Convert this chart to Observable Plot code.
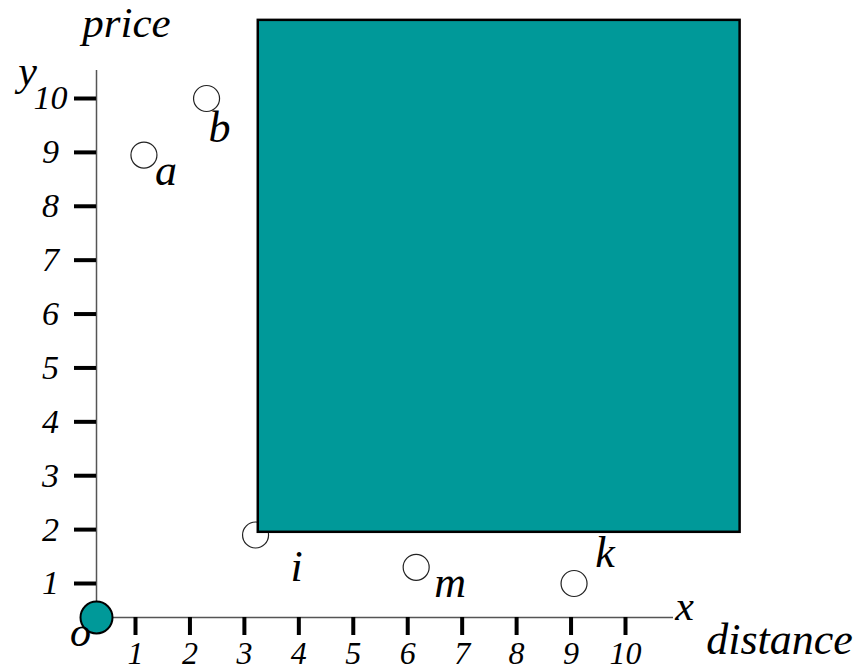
<!DOCTYPE html>
<html>
<head>
<meta charset="utf-8">
<script src="https://cdn.jsdelivr.net/npm/d3@7"></script>
<script src="https://cdn.jsdelivr.net/npm/@observablehq/plot@0.6"></script>
<style>
  html, body { margin: 0; padding: 0; background: #fff; }
</style>
</head>
<body>
<div id="chart"></div>
<script>
// Points in the distance / price plane
const names = ["a", "b", "i", "m", "k"];
const distance = [1.1, 2.25, 3.15, 6.1, 9.0];
const price = [8.95, 10, 1.9, 1.3, 1.0];

// Region dominated by point i (extends past the axes)
const regionDistance = [3.2, 12.05];
const regionPrice = [1.95, 11.45];

// Origin
const originDistance = [0];
const originPrice = [0];

// Tick values
const xTicks = [1, 2, 3, 4, 5, 6, 7, 8, 9, 10];
const yTicks = [1, 2, 3, 4, 5, 6, 7, 8, 9, 10];

const points = names.map((name, i) => ({name, distance: distance[i], price: price[i]}));
const region = [{x1: regionDistance[0], x2: regionDistance[1], y1: regionPrice[0], y2: regionPrice[1]}];
const origin = originDistance.map((d, i) => ({distance: d, price: originPrice[i]}));

const teal = "#009999";
const serif = "'Liberation Serif', 'Times New Roman', serif";

// Label placement for each point (pixel offsets from the point)
const labelPlacement = [
  {name: "a", dx: 22, dy: 16},
  {name: "b", dx: 13, dy: 29},
  {name: "i", dx: 41, dy: 32},
  {name: "m", dx: 34, dy: 16},
  {name: "k", dx: 31, dy: -31}
];

const pointLabels = labelPlacement.map(({name, dx, dy}) =>
  Plot.text(points.filter(p => p.name === name), {
    x: "distance", y: "price", text: "name", dx, dy, fontSize: 44, fill: "black"
  })
);

// axis names, centred on their anchor point
const axisName = (label, frameAnchor, dx, dy, fontSize) =>
  Plot.text([label], {frameAnchor, textAnchor: "middle", lineAnchor: "middle", dx, dy, fontSize, fill: "black"});

const chart = Plot.plot({
  width: 861,
  height: 672,
  marginLeft: 96,
  marginTop: 70,
  marginRight: 188,
  marginBottom: 55,
  x: {type: "linear", domain: [0, 1, 10], range: [96, 138, 628]},
  y: {type: "linear", domain: [0, 1, 10], range: [617, 583, 98]},
  style: {fontFamily: serif, fontStyle: "italic", background: "white", color: "black"},
  marks: [
    // sample points (drawn beneath the region)
    Plot.dot(points, {x: "distance", y: "price", r: 13, fill: "white", stroke: "#222", strokeWidth: 1.2}),
    // dominated region
    Plot.rect(region, {x1: "x1", x2: "x2", y1: "y1", y2: "y2", fill: teal, stroke: "black", strokeWidth: 2.5}),
    // axis lines
    Plot.ruleY([0], {stroke: "#555", strokeWidth: 1.5}),
    Plot.ruleX([0], {stroke: "#555", strokeWidth: 1.5}),
    // ticks and tick labels
    Plot.axisX(xTicks, {anchor: "bottom", tickSize: 18, tickPadding: 6, strokeWidth: 4, fontSize: 32, dx: -3, label: null, tickFormat: d => String(d)}),
    Plot.axisY(yTicks, {anchor: "left", tickSize: 22, tickPadding: 24, textAnchor: "middle", strokeWidth: 4, fontSize: 34, label: null, tickFormat: d => String(d)}),
    // origin
    Plot.dot(origin, {x: "distance", y: "price", r: 16, fill: teal, stroke: "black", strokeWidth: 2}),
    Plot.text(origin, {x: "distance", y: "price", text: () => "o", dx: -16, dy: 15, fontSize: 42, fill: "black"}),
    // point labels
    ...pointLabels,
    // axis names
    axisName("price", "top-left", 30, -47, 43),
    axisName("y", "top-left", -69, 1, 42),
    axisName("x", "bottom-right", 11, -11, 42),
    axisName("distance", "bottom-right", 106, 22, 44)
  ]
});

document.getElementById("chart").appendChild(chart);
</script>
</body>
</html>
